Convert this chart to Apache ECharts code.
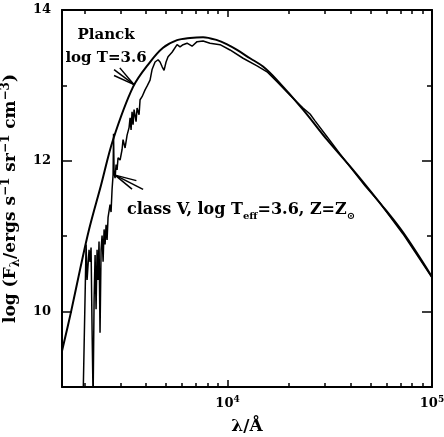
<!DOCTYPE html>
<html><head><meta charset="utf-8">
<script src="https://cdn.jsdelivr.net/npm/echarts@6/dist/echarts.min.js"></script>
<style>html,body{margin:0;padding:0;background:#fff}#c{width:444px;height:437px}</style>
</head><body><div id="c"></div>
<script>
// ---- axis ranges / ticks (wavelength in Angstrom, log F) ----
const xMinWavelength = 1550;
const xMaxWavelength = 100000;
const xMajorTicks = [10000, 100000];
const xMinorTicks = [2000,3000,4000,5000,6000,7000,8000,9000,20000,30000,40000,50000,60000,70000,80000,90000];
const xTickLabels = [10000, 100000];
const yMin = 9, yMax = 14;
const yMajorTicks = [10, 12, 14];
const yMinorTicks = [11, 13];
const yTickLabels = [10, 12, 14];

// ---- Planck curve, log T = 3.6 : [wavelength, log F] ----
const planckData = [
  [1551, 9.48], [1717, 10.00], [1900, 10.56], [2102, 11.09], [2407, 11.68],
  [2755, 12.28], [3451, 12.98], [4178, 13.31], [4837, 13.50], [5664, 13.60],
  [6555, 13.63], [7590, 13.64], [8886, 13.60], [10000, 13.54], [11130, 13.47],
  [12880, 13.36], [14915, 13.25], [17460, 13.07], [23400, 12.68], [30670, 12.28],
  [41090, 11.88], [55680, 11.44], [72150, 11.05], [100000, 10.46]
];

// ---- class V model spectrum, log Teff = 3.6, Z = Zsun : [wavelength, log F] ----
const spectrumData = [
  [1965, 8.83], [2033, 10.89], [2056, 10.42], [2102, 10.82], [2126, 10.66],
  [2150, 10.85], [2175, 9.76], [2200, 8.83], [2225, 10.16], [2250, 10.75],
  [2275, 10.03], [2301, 10.82], [2326, 10.42], [2352, 10.93], [2379, 9.72],
  [2407, 10.82], [2434, 11.01], [2462, 10.66], [2490, 11.09], [2518, 10.89],
  [2546, 11.15], [2575, 10.95], [2604, 11.25], [2663, 11.42], [2693, 11.32],
  [2724, 11.62], [2755, 11.81], [2770, 12.36], [2786, 11.85], [2818, 11.77],
  [2850, 11.95], [2882, 11.88], [2914, 12.04], [2981, 12.01], [3049, 12.15],
  [3083, 12.28], [3154, 12.17], [3226, 12.34], [3299, 12.44], [3337, 12.57],
  [3374, 12.41], [3412, 12.65], [3451, 12.48], [3490, 12.68], [3570, 12.52],
  [3610, 12.70], [3692, 12.61], [3734, 12.81], [3819, 12.85], [3950, 12.94],
  [4040, 12.99], [4178, 13.07], [4274, 13.21], [4421, 13.31], [4573, 13.34],
  [4676, 13.31], [4783, 13.25], [4892, 13.20], [5003, 13.31], [5117, 13.38],
  [5233, 13.36], [5353, 13.44], [5664, 13.54], [5857, 13.51], [6058, 13.54],
  [6339, 13.56], [6706, 13.52], [7094, 13.58], [7590, 13.59], [8210, 13.56],
  [9190, 13.54], [10285, 13.47], [11910, 13.36], [13940, 13.26], [15600, 13.18],
  [17460, 13.05], [20210, 12.87], [23400, 12.70], [25320, 12.62], [26790, 12.53],
  [30670, 12.32], [35490, 12.09], [41090, 11.87], [47020, 11.67], [55680, 11.44],
  [72150, 11.03], [100000, 10.45]
];

// ---- annotations (data coordinates) ----
const planckArrow = {tip: [3490, 13.01], tail: [2786, 13.21]};
const classVArrow = {tip: [2818, 11.81], tail: [3863, 11.62]};

const FONT = '"DejaVu Serif", "Liberation Serif", serif';
const lg = Math.log10;
const toXY = d => d.map(p => [lg(p[0]), p[1]]);

const chart = echarts.init(document.getElementById('c'), null, {renderer: 'canvas'});

function xAxisDef(pos, ticks, len, main) {
  return {
    type: 'value', position: pos, min: lg(xMinWavelength), max: lg(xMaxWavelength),
    splitLine: {show: false},
    axisLine: {show: main, lineStyle: {color: '#000', width: 2}},
    axisTick: {show: true, inside: true, length: len, customValues: ticks.map(lg),
               lineStyle: {color: '#000', width: 1.5}},
    axisLabel: (main && pos === 'bottom') ? {
      show: true, customValues: xTickLabels.map(lg), margin: 8,
      formatter: v => '{b|10}{sup|' + Math.round(v) + '}',
      color: '#000', fontFamily: FONT, fontWeight: 'bold', fontSize: 13, lineHeight: 18,
      rich: {
        b: {fontFamily: FONT, fontWeight: 'bold', fontSize: 13, color: '#000', lineHeight: 18},
        sup: {fontFamily: FONT, fontWeight: 'bold', fontSize: 9, color: '#000', verticalAlign: 'top', lineHeight: 12}
      }
    } : {show: false},
    name: (main && pos === 'bottom') ? 'λ/Å' : '',
    nameLocation: 'middle', nameGap: 18,
    nameTextStyle: {fontFamily: FONT, fontWeight: 'bold', fontSize: 17, color: '#000'}
  };
}
function yAxisDef(pos, ticks, len, main) {
  return {
    type: 'value', position: pos, min: yMin, max: yMax,
    splitLine: {show: false},
    axisLine: {show: main, lineStyle: {color: '#000', width: 2}},
    axisTick: {show: true, inside: true, length: len, customValues: ticks,
               lineStyle: {color: '#000', width: 1.5}},
    axisLabel: (main && pos === 'left') ? {
      show: true, customValues: yTickLabels, margin: 11,
      color: '#000', fontFamily: FONT, fontWeight: 'bold', fontSize: 13
    } : {show: false},
    name: (main && pos === 'left') ? 'log (F{sub|λ}/ergs s{sup|−1} sr{sup|−1} cm{sup|−3})' : '',
    nameLocation: 'middle', nameGap: 33, nameRotate: 90,
    nameTextStyle: {
      fontFamily: FONT, fontWeight: 'bold', fontSize: 17, color: '#000', lineHeight: 22,
      rich: {
        sub: {fontFamily: FONT, fontWeight: 'bold', fontSize: 12, color: '#000', verticalAlign: 'bottom', lineHeight: 14},
        sup: {fontFamily: FONT, fontWeight: 'bold', fontSize: 12, color: '#000', verticalAlign: 'top', lineHeight: 14}
      }
    }
  };
}

chart.setOption({
  animation: false,
  backgroundColor: '#fff',
  grid: {left: 62, right: 12, top: 10, bottom: 50, containLabel: false, outerBoundsMode: 'none'},
  xAxis: [
    xAxisDef('bottom', xMajorTicks, 7, true),
    xAxisDef('bottom', xMinorTicks, 4, false),
    xAxisDef('top', xMajorTicks, 7, true),
    xAxisDef('top', xMinorTicks, 4, false)
  ],
  yAxis: [
    yAxisDef('left', yMajorTicks, 10, true),
    yAxisDef('left', yMinorTicks, 5, false),
    yAxisDef('right', yMajorTicks, 10, true),
    yAxisDef('right', yMinorTicks, 5, false)
  ],
  series: [
    {name: 'Planck', type: 'line', xAxisIndex: 0, yAxisIndex: 0, data: toXY(planckData),
     showSymbol: false, smooth: 0.35, clip: true,
     lineStyle: {color: '#000', width: 2}},
    {name: 'class V', type: 'line', xAxisIndex: 0, yAxisIndex: 0, data: toXY(spectrumData),
     showSymbol: false, clip: true,
     lineStyle: {color: '#000', width: 1.5}}
  ]
});

function px(p) { return chart.convertToPixel({gridIndex: 0}, [lg(p[0]), p[1]]); }
function arrow(a) {
  const t = px(a.tip), s = px(a.tail);
  const ang = Math.atan2(s[1] - t[1], s[0] - t[0]);
  const out = [{type: 'line', shape: {x1: t[0], y1: t[1], x2: s[0], y2: s[1]}, style: {stroke: '#000', lineWidth: 1.5}}];
  [-0.22, 0.22].forEach(d => {
    const L = 22;
    out.push({type: 'line', shape: {x1: t[0], y1: t[1], x2: t[0] + L * Math.cos(ang + d), y2: t[1] + L * Math.sin(ang + d)},
              style: {stroke: '#000', lineWidth: 1.5}});
  });
  return out;
}
const gfx = [].concat(arrow(planckArrow), arrow(classVArrow));
gfx.push({type: 'text', style: {text: 'Planck', x: 106, y: 35, textAlign: 'center', textVerticalAlign: 'middle',
  font: 'bold 15px ' + FONT, fill: '#000'}});
gfx.push({type: 'text', style: {text: 'log T=3.6', x: 106, y: 58, textAlign: 'center', textVerticalAlign: 'middle',
  font: 'bold 15px ' + FONT, fill: '#000'}});
gfx.push({type: 'text', style: {
  text: 'class V, log T{sub|eff}=3.6, Z=Z{sub|⊙}', x: 127, y: 210, textAlign: 'left', textVerticalAlign: 'middle',
  font: 'bold 16px ' + FONT, fill: '#000', lineHeight: 22,
  rich: {sub: {font: 'bold 10px ' + FONT, fill: '#000', verticalAlign: 'bottom', lineHeight: 13}}
}});
chart.setOption({graphic: gfx});
</script></body></html>
